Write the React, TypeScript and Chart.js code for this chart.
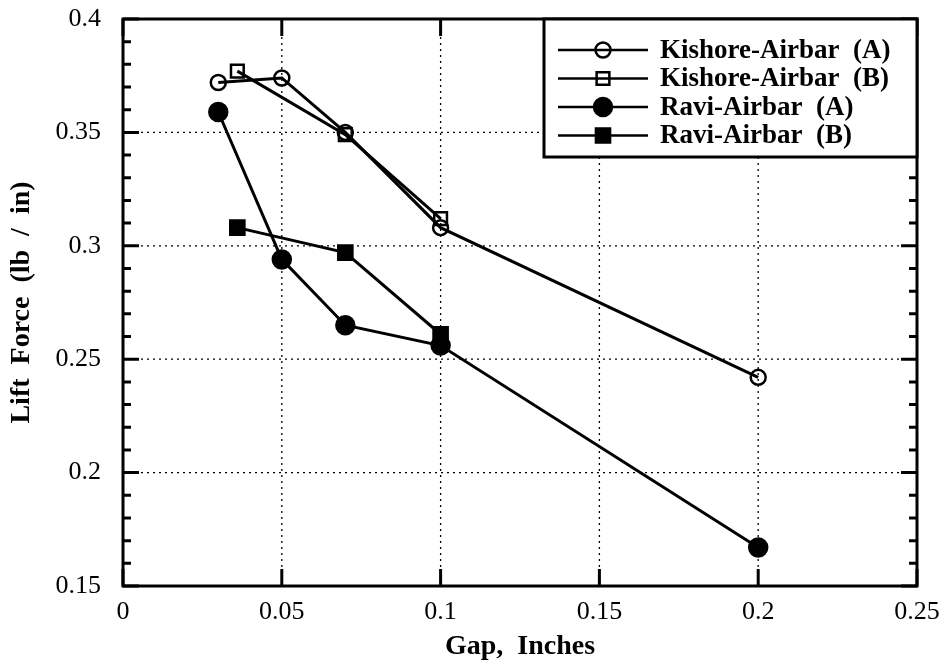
import React, { useEffect, useRef } from "react";
import { Chart, registerables } from "chart.js";

Chart.register(...registerables);

// ---- data ----
const xTicks = [0, 0.05, 0.1, 0.15, 0.2, 0.25];
const yTicks = [0.15, 0.2, 0.25, 0.3, 0.35, 0.4];
const yMinorStep = 0.01;

const seriesNames = [
  "Kishore-Airbar  (A)",
  "Kishore-Airbar  (B)",
  "Ravi-Airbar  (A)",
  "Ravi-Airbar  (B)",
];

const kishoreAGap = [0.03, 0.05, 0.07, 0.1, 0.2];
const kishoreALift = [0.372, 0.374, 0.35, 0.308, 0.242];

const kishoreBGap = [0.036, 0.07, 0.1];
const kishoreBLift = [0.377, 0.349, 0.312];

const raviAGap = [0.03, 0.05, 0.07, 0.1, 0.2];
const raviALift = [0.359, 0.294, 0.265, 0.256, 0.167];

const raviBGap = [0.036, 0.07, 0.1];
const raviBLift = [0.308, 0.297, 0.261];

const xTitle = "Gap,  Inches";
const yTitle = "Lift  Force  (lb  /  in)";

const FONT = "'Liberation Serif', 'DejaVu Serif', serif";

const toPoints = (xs: number[], ys: number[]) => xs.map((x, i) => ({ x, y: ys[i] }));
const fmt = (v: any) => String(+Number(v).toFixed(3));

const styles = [
  { pointStyle: "circle", fill: false, radius: 7.5 },
  { pointStyle: "rect", fill: false, radius: 9 },
  { pointStyle: "circle", fill: true, radius: 9 },
  { pointStyle: "rect", fill: true, radius: 10 },
];

function drawMarker(ctx: CanvasRenderingContext2D, style: string, fill: boolean, r: number, cx: number, cy: number) {
  ctx.save();
  ctx.lineWidth = 2.5;
  ctx.strokeStyle = "#000";
  ctx.fillStyle = "#000";
  ctx.beginPath();
  if (style === "circle") {
    ctx.arc(cx, cy, r, 0, Math.PI * 2);
  } else {
    const s = r * Math.SQRT1_2;
    ctx.rect(cx - s, cy - s, 2 * s, 2 * s);
  }
  if (fill) ctx.fill();
  ctx.stroke();
  ctx.restore();
}

const framePlugin = {
  id: "frame",
  beforeDatasetsDraw(chart: any) {
    const { ctx, chartArea, scales } = chart;
    const { left, right, top, bottom } = chartArea;
    const x = scales.x;
    const y = scales.y;
    ctx.save();
    ctx.strokeStyle = "#000";
    ctx.lineWidth = 1.3;
    ctx.setLineDash([2, 4]);
    xTicks.forEach((v) => {
      const px = x.getPixelForValue(v);
      ctx.beginPath();
      ctx.moveTo(px, top);
      ctx.lineTo(px, bottom);
      ctx.stroke();
    });
    yTicks.forEach((v) => {
      const py = y.getPixelForValue(v);
      ctx.beginPath();
      ctx.moveTo(left, py);
      ctx.lineTo(right, py);
      ctx.stroke();
    });
    ctx.restore();
  },
  afterDraw(chart: any) {
    const { ctx, chartArea, scales } = chart;
    const { left, right, top, bottom } = chartArea;
    const x = scales.x;
    const y = scales.y;
    ctx.save();
    ctx.strokeStyle = "#000";
    ctx.lineWidth = 3;
    ctx.setLineDash([]);
    // ticks
    const majorLen = 16;
    const minorLen = 8;
    const yMin = yTicks[0];
    const yMax = yTicks[yTicks.length - 1];
    const nMinor = Math.round((yMax - yMin) / yMinorStep);
    for (let i = 0; i <= nMinor; i++) {
      const v = yMin + i * yMinorStep;
      const py = y.getPixelForValue(v);
      const isMajor = i % 5 === 0;
      const len = isMajor ? majorLen : minorLen;
      ctx.beginPath();
      ctx.moveTo(left, py);
      ctx.lineTo(left + len, py);
      ctx.moveTo(right, py);
      ctx.lineTo(right - len, py);
      ctx.stroke();
    }
    xTicks.forEach((v) => {
      const px = x.getPixelForValue(v);
      ctx.beginPath();
      ctx.moveTo(px, bottom);
      ctx.lineTo(px, bottom - 17);
      ctx.moveTo(px, top);
      ctx.lineTo(px, top + 17);
      ctx.stroke();
    });
    // frame
    ctx.strokeRect(left, top, right - left, bottom - top);

    // legend
    const bw = 373;
    const bh = 138;
    const bx = right - bw;
    const by = top;
    ctx.fillStyle = "#fff";
    ctx.fillRect(bx, by, bw, bh);
    ctx.lineWidth = 3;
    ctx.strokeRect(bx, by, bw, bh);
    ctx.font = `bold 27px ${FONT}`;
    ctx.textBaseline = "middle";
    ctx.textAlign = "left";
    seriesNames.forEach((name, i) => {
      const cy = by + 31 + i * 28.5;
      ctx.lineWidth = 2.5;
      ctx.beginPath();
      ctx.moveTo(bx + 14, cy);
      ctx.lineTo(bx + 104, cy);
      ctx.stroke();
      const st = styles[i];
      drawMarker(ctx, st.pointStyle, st.fill, st.radius, bx + 59, cy);
      ctx.fillStyle = "#000";
      ctx.fillText(name, bx + 116, cy + 1);
    });
    ctx.restore();
  },
};

export default function App() {
  const ref = useRef<HTMLCanvasElement | null>(null);

  useEffect(() => {
    if (!ref.current) return;
    const allX = [kishoreAGap, kishoreBGap, raviAGap, raviBGap];
    const allY = [kishoreALift, kishoreBLift, raviALift, raviBLift];
    const datasets = seriesNames.map((name, i) => ({
      label: name,
      data: toPoints(allX[i], allY[i]),
      showLine: true,
      borderColor: "#000",
      borderWidth: 3,
      pointStyle: styles[i].pointStyle,
      pointRadius: styles[i].radius,
      pointHoverRadius: styles[i].radius,
      pointBorderWidth: 2.5,
      pointBorderColor: "#000",
      pointBackgroundColor: styles[i].fill ? "#000" : "rgba(0,0,0,0)",
      tension: 0,
    }));

    const chart = new Chart(ref.current, {
      type: "scatter",
      data: { datasets },
      options: {
        animation: false,
        responsive: false,
        devicePixelRatio: 1,
        layout: { padding: { top: 19, right: 34, left: 0, bottom: 0 } },
        plugins: {
          legend: { display: false },
          tooltip: { enabled: false },
        },
        scales: {
          x: {
            type: "linear",
            min: xTicks[0],
            max: xTicks[xTicks.length - 1],
            afterBuildTicks: (s: any) => {
              s.ticks = xTicks.map((v) => ({ value: v }));
            },
            afterFit: (s: any) => {
              s.height = 78;
              s.paddingLeft = 0;
              s.paddingRight = 0;
            },
            grid: { display: false, drawTicks: false },
            border: { display: false },
            ticks: {
              color: "#000",
              padding: 11,
              maxRotation: 0,
              font: { family: FONT, size: 26 },
              callback: (v: any) => fmt(v),
            },
            title: {
              display: true,
              text: xTitle,
              color: "#000",
              font: { family: FONT, size: 28, weight: "bold" },
              padding: { top: 0, bottom: 0 },
            },
          },
          y: {
            type: "linear",
            min: yTicks[0],
            max: yTicks[yTicks.length - 1],
            afterBuildTicks: (s: any) => {
              s.ticks = yTicks.map((v) => ({ value: v }));
            },
            afterFit: (s: any) => {
              s.width = 123;
              s.paddingTop = 0;
              s.paddingBottom = 0;
            },
            grid: { display: false, drawTicks: false },
            border: { display: false },
            ticks: {
              color: "#000",
              padding: 22,
              font: { family: FONT, size: 26 },
              callback: (v: any) => fmt(v),
            },
            title: {
              display: true,
              text: yTitle,
              color: "#000",
              font: { family: FONT, size: 28, weight: "bold" },
              padding: { top: 5, bottom: 0 },
            },
          },
        },
      },
      plugins: [framePlugin],
    } as any);
    return () => chart.destroy();
  }, []);

  return (
    <div style={{ position: "fixed", left: 0, top: 0, width: 951, height: 664, background: "#fff" }}>
      <canvas ref={ref} width={951} height={664} style={{ display: "block", width: 951, height: 664 }} />
    </div>
  );
}
